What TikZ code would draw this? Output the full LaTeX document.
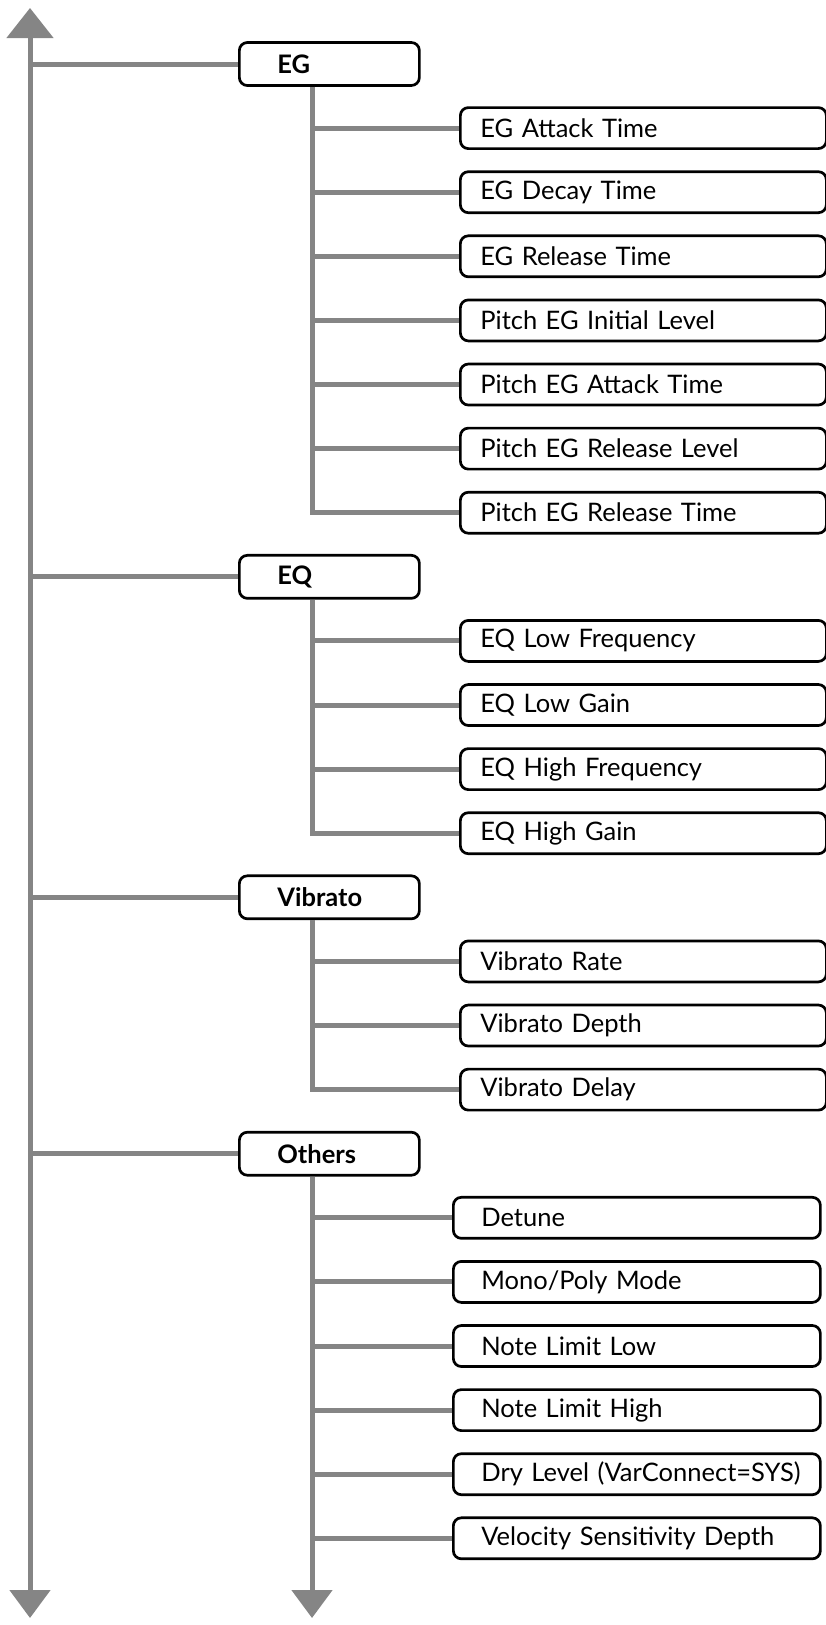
\documentclass[tikz,border=0pt]{standalone}
\usepackage{fontspec}
\setmainfont{Lato}
\usetikzlibrary{arrows.meta}
\definecolor{wire}{HTML}{858585}
\tikzset{
  wire/.style={draw=wire, line width=5pt},
  group/.style={draw=black, line width=2.7pt, rounded corners=8pt,
    minimum height=43pt, text width=104pt, inner xsep=38pt, inner ysep=0pt,
    align=left, anchor=west, font=\fontsize{25.5}{29}\selectfont\bfseries},
  param/.style={draw=black, line width=2.7pt, rounded corners=8pt,
    minimum height=41pt, text width=326pt, inner xsep=20pt, inner ysep=0pt,
    align=left, anchor=west, font=\fontsize{25.5}{29}\selectfont},
  other/.style={param, text width=311pt, inner xsep=28pt},
  uptip/.style={-{Triangle[width=46pt,length=30pt]}},
  downtip/.style={-{Triangle[width=40pt,length=28pt]}},
}
\begin{document}
\begin{tikzpicture}[x=1pt,y=-1pt]
  \useasboundingbox (0,0) rectangle (826,1625);
  % spine positions
  \coordinate (main) at (30,0);
  \coordinate (sub) at (312,0);
  \coordinate (mainTop) at (30,8);
  \coordinate (mainBot) at (30,1618);

  % EG group
  \node[group] (eg) at (238,64) {EG};
  \node[param] (eg1) at (459,128.1) {EG Attack Time};
  \node[param] (eg2) at (459,192.2) {EG Decay Time};
  \node[param] (eg3) at (459,256.3) {EG Release Time};
  \node[param] (eg4) at (459,320.4) {Pitch EG Initial Level};
  \node[param] (eg5) at (459,384.5) {Pitch EG Attack Time};
  \node[param] (eg6) at (459,448.6) {Pitch EG Release Level};
  \node[param] (eg7) at (459,512.7) {Pitch EG Release Time};

  % EQ group
  \node[group] (eq) at (238,576.8) {EQ};
  \node[param] (eq1) at (459,640.9) {EQ Low Frequency};
  \node[param] (eq2) at (459,705) {EQ Low Gain};
  \node[param] (eq3) at (459,769.1) {EQ High Frequency};
  \node[param] (eq4) at (459,833.2) {EQ High Gain};

  % Vibrato group
  \node[group] (vib) at (238,897.3) {Vibrato};
  \node[param] (vib1) at (459,961.4) {Vibrato Rate};
  \node[param] (vib2) at (459,1025.5) {Vibrato Depth};
  \node[param] (vib3) at (459,1089.6) {Vibrato Delay};

  % Others group
  \node[group] (oth) at (238,1153.7) {Others};
  \node[other] (oth1) at (452,1217.8) {Detune};
  \node[other] (oth2) at (452,1281.9) {Mono/Poly Mode};
  \node[other] (oth3) at (452,1346) {Note Limit Low};
  \node[other] (oth4) at (452,1410.1) {Note Limit High};
  \node[other] (oth5) at (452,1474.2) {\mbox{Dry Level (VarConnect=SYS)}};
  \node[other] (oth6) at (452,1538.3) {Velocity Sensitivity Depth};
  \coordinate (othBot) at (312,1618);

  % main spine with arrows at both ends
  \draw[wire, uptip] (30,1560) -- (mainTop);
  \draw[wire, downtip] (30,200) -- (mainBot);
  \foreach \g in {eg,eq,vib,oth}
    \draw[wire] (\g.west -| main) -- (\g.west);

  % branch spines
  \draw[wire] (eg.south -| sub) |- (eg7.west);
  \foreach \c in {eg1,eg2,eg3,eg4,eg5,eg6}
    \draw[wire] (\c.west -| sub) -- (\c.west);

  \draw[wire] (eq.south -| sub) |- (eq4.west);
  \foreach \c in {eq1,eq2,eq3}
    \draw[wire] (\c.west -| sub) -- (\c.west);

  \draw[wire] (vib.south -| sub) |- (vib3.west);
  \foreach \c in {vib1,vib2}
    \draw[wire] (\c.west -| sub) -- (\c.west);

  \draw[wire, downtip] (oth.south -| sub) -- (othBot);
  \foreach \c in {oth1,oth2,oth3,oth4,oth5,oth6}
    \draw[wire] (\c.west -| sub) -- (\c.west);
\end{tikzpicture}
\end{document}
